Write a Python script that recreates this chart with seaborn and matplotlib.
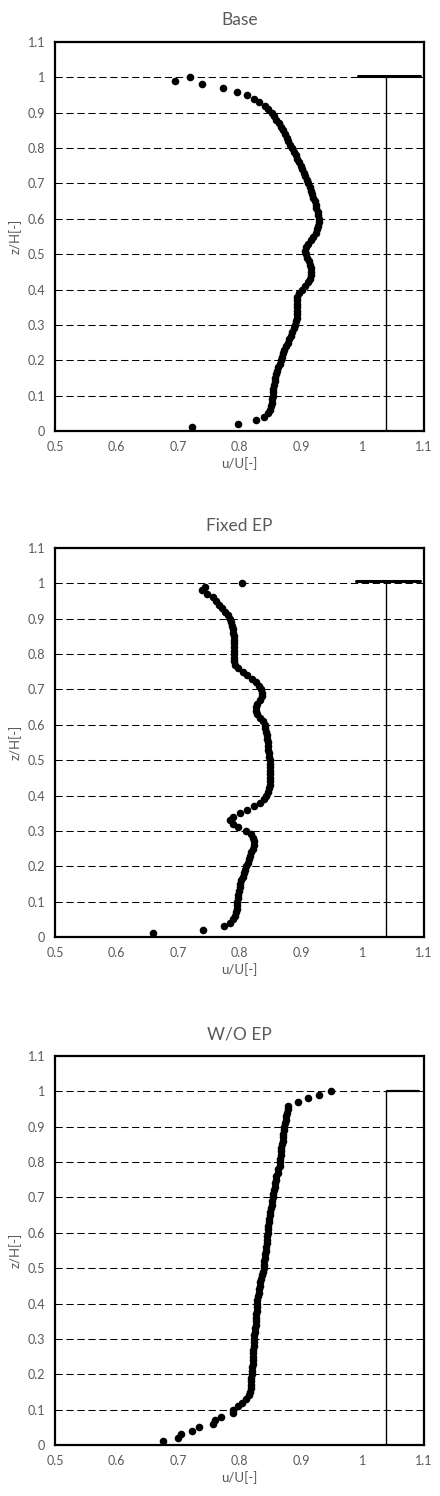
import numpy as np
import pandas as pd
import matplotlib
matplotlib.use("Agg")
import matplotlib.pyplot as plt
import seaborn as sns

# heights z/H (0.01 .. 1.00)
z = [round(0.01 * i, 2) for i in range(1, 101)]

base_u = [0.722, 0.797, 0.827, 0.840, 0.847, 0.850, 0.851, 0.852, 0.853, 0.854,
          0.854, 0.855, 0.856, 0.857, 0.858, 0.860, 0.861, 0.863, 0.865, 0.867,
          0.869, 0.871, 0.873, 0.875, 0.878, 0.880, 0.883, 0.886, 0.888, 0.890,
          0.892, 0.893, 0.893, 0.893, 0.893, 0.893, 0.893, 0.894, 0.897, 0.901,
          0.907, 0.912, 0.914, 0.916, 0.916, 0.916, 0.915, 0.913, 0.910, 0.908,
          0.907, 0.908, 0.911, 0.916, 0.920, 0.924, 0.926, 0.928, 0.929, 0.929,
          0.928, 0.927, 0.925, 0.924, 0.922, 0.920, 0.918, 0.916, 0.914, 0.912,
          0.909, 0.907, 0.904, 0.902, 0.900, 0.897, 0.894, 0.891, 0.888, 0.885,
          0.882, 0.879, 0.877, 0.874, 0.871, 0.868, 0.864, 0.860, 0.856, 0.852,
          0.846, 0.841, 0.832, 0.824, 0.812, 0.795, 0.773, 0.739, 0.695, 0.720]

fixed_u = [0.659, 0.741, 0.774, 0.785, 0.789, 0.793, 0.794, 0.795, 0.795, 0.796,
           0.797, 0.798, 0.799, 0.800, 0.801, 0.803, 0.805, 0.807, 0.809, 0.811,
           0.813, 0.815, 0.817, 0.819, 0.821, 0.823, 0.823, 0.822, 0.819, 0.810,
           0.797, 0.789, 0.784, 0.789, 0.800, 0.812, 0.824, 0.833, 0.839, 0.843,
           0.846, 0.848, 0.849, 0.849, 0.849, 0.849, 0.849, 0.849, 0.849, 0.849,
           0.848, 0.848, 0.847, 0.846, 0.846, 0.845, 0.844, 0.843, 0.842, 0.841,
           0.838, 0.834, 0.829, 0.827, 0.827, 0.829, 0.833, 0.836, 0.836, 0.835,
           0.832, 0.827, 0.820, 0.812, 0.805, 0.798, 0.793, 0.791, 0.791, 0.791,
           0.791, 0.791, 0.791, 0.791, 0.791, 0.790, 0.789, 0.787, 0.786, 0.784,
           0.781, 0.777, 0.772, 0.767, 0.762, 0.757, 0.747, 0.739, 0.744, 0.804]

woep_u = [0.675, 0.700, 0.705, 0.723, 0.734, 0.757, 0.760, 0.769, 0.789, 0.790,
          0.798, 0.804, 0.810, 0.815, 0.817, 0.818, 0.818, 0.819, 0.819, 0.820,
          0.820, 0.820, 0.821, 0.821, 0.821, 0.822, 0.822, 0.823, 0.823, 0.824,
          0.824, 0.825, 0.825, 0.826, 0.827, 0.827, 0.827, 0.828, 0.828, 0.828,
          0.829, 0.830, 0.831, 0.832, 0.833, 0.834, 0.835, 0.836, 0.838, 0.839,
          0.840, 0.840, 0.841, 0.842, 0.843, 0.843, 0.844, 0.845, 0.845, 0.846,
          0.846, 0.847, 0.848, 0.848, 0.849, 0.850, 0.851, 0.852, 0.853, 0.854,
          0.855, 0.856, 0.857, 0.858, 0.859, 0.860, 0.862, 0.863, 0.865, 0.866,
          0.866, 0.867, 0.868, 0.868, 0.869, 0.870, 0.870, 0.871, 0.872, 0.873,
          0.874, 0.875, 0.876, 0.877, 0.878, 0.879, 0.895, 0.912, 0.929, 0.948]

titles = ["Base", "Fixed EP", "W/O EP"]

# building outline (wall + roof) per panel
wall_x = [1.038, 1.038]
wall_z = [0.0, 1.0]
roof_x = [[0.993, 1.094], [0.990, 1.094], [1.039, 1.092]]
roof_z = [[1.005, 1.005], [1.007, 1.007], [1.0, 1.0]]
roof_lw = [2.2, 2.2, 1.6]

xticks = [0.5, 0.6, 0.7, 0.8, 0.9, 1.0, 1.1]
xlabels = ["0.5", "0.6", "0.7", "0.8", "0.9", "1", "1.1"]
yticks = [0, 0.1, 0.2, 0.3, 0.4, 0.5, 0.6, 0.7, 0.8, 0.9, 1.0, 1.1]
ylabels = ["0", "0.1", "0.2", "0.3", "0.4", "0.5", "0.6", "0.7", "0.8", "0.9", "1", "1.1"]

sns.set_style("white")
plt.rcParams['font.family'] = ['Lato', 'DejaVu Sans']

grey = "#595959"
fig = plt.figure(figsize=(4.4, 14.96), dpi=100)
bottoms = [0.7119, 0.3737, 0.0341]

for i, u in enumerate([base_u, fixed_u, woep_u]):
    ax = fig.add_axes([0.125, bottoms[i], 0.839, 0.260])
    df = pd.DataFrame({"u": u, "z": z})
    ax.grid(axis="y", color="black", linestyle=(0, (7, 3.5)), linewidth=0.75)
    ax.set_axisbelow(True)
    sns.scatterplot(data=df, x="u", y="z", color="black", s=30, linewidth=0, ax=ax, zorder=3)
    ax.plot(wall_x, wall_z, color="black", linewidth=1.0, zorder=2)
    ax.plot(roof_x[i], roof_z[i], color="black", linewidth=roof_lw[i], zorder=2)

    ax.set_xlim(0.5, 1.1)
    ax.set_ylim(0, 1.1)
    ax.set_xticks(xticks)
    ax.set_xticklabels(xlabels)
    ax.set_yticks(yticks)
    ax.set_yticklabels(ylabels)
    ax.tick_params(axis="both", length=0, labelsize=9, labelcolor=grey, pad=7)
    ax.set_xlabel("u/U[-]", fontsize=9.5, color=grey, labelpad=3)
    ax.set_ylabel("z/H[-]", fontsize=9.5, color=grey, labelpad=4)
    ax.set_title(titles[i], fontsize=12.5, color=grey, pad=12)
    for sp in ax.spines.values():
        sp.set_visible(True)
        sp.set_color("black")
        sp.set_linewidth(1.6)

fig.savefig("out.png", dpi=100)
